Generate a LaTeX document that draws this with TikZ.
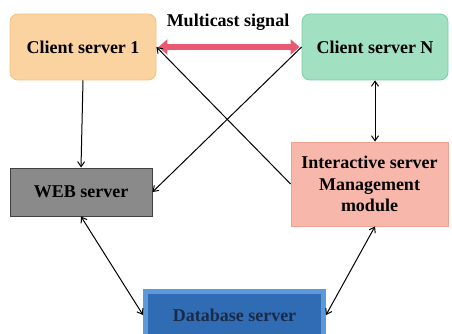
\documentclass[tikz,border=0pt]{standalone}
\usepackage{fontspec}
\setmainfont{Liberation Serif}
\usetikzlibrary{arrows.meta}
\definecolor{clientA}{HTML}{FBD3A0}
\definecolor{clientAline}{HTML}{F3C27A}
\definecolor{clientB}{HTML}{A2E0C2}
\definecolor{clientBline}{HTML}{74CFA2}
\definecolor{webgrey}{HTML}{8A8A8A}
\definecolor{imspink}{HTML}{F7B8AB}
\definecolor{imsline}{HTML}{EFA292}
\definecolor{dbblue}{HTML}{2F6CB3}
\definecolor{dbedge}{HTML}{5C98DA}
\definecolor{dbtext}{HTML}{1B2A48}
\definecolor{signal}{HTML}{E95A72}
\begin{document}
\begin{tikzpicture}[x=1pt, y=-1pt,
  box/.style={draw, line width=0.8pt, align=center, inner sep=0pt,
    font=\fontsize{18}{21.5}\selectfont\bfseries},
  link/.style={-{Straight Barb[length=5pt,width=7pt]}, line width=1pt},
  biglink/.style={{Straight Barb[length=5pt,width=7pt]}-{Straight Barb[length=5pt,width=7pt]}, line width=1pt}]
\useasboundingbox (0,0) rectangle (452,334);
\clip (0,0) rectangle (452,334);
\node (c1)[box, rounded corners=8pt, fill=clientA, draw=clientAline,
  minimum width=146pt, minimum height=66pt] at (83,47) {Client server 1};
\node (cN)[box, rounded corners=8pt, fill=clientB, draw=clientBline,
  minimum width=146pt, minimum height=66pt] at (375,47) {Client server N};
\node (web)[box, fill=webgrey, draw=black!75, line width=1pt,
  minimum width=142pt, minimum height=48pt] at (81,192) {WEB server};
\node (ims)[box, fill=imspink, draw=imsline,
  minimum width=157pt, minimum height=84pt] at (369.5,184)
  {Interactive server\\Management\\module};
% database box with a bevelled frame
\node (db)[box, fill=dbblue, draw=dbedge, line width=5pt, text=dbtext,
  minimum width=178pt, minimum height=47pt] at (234.5,315) {Database server};
\node (sig)[font=\fontsize{18}{20}\selectfont\bfseries] at (228,22) {Multicast signal};
\draw[signal, line width=6pt, {Triangle[length=9pt,width=15pt]}-{Triangle[length=9pt,width=15pt]}]
  (c1.east) ++(2,0) coordinate (s1) (cN.west) ++(-2,0) coordinate (s2)
  (s1) -- (s2);
\draw[link] (c1.south) -- (web.north);
\draw[biglink] (cN.south) -- (cN.south |- ims.north);
\draw[link] (ims.west) -- (c1.east);
\draw[link] (cN.west) -- (web.east);
\draw[biglink] (web.south) -- (db.west);
\draw[biglink] (cN.south |- ims.south) -- (db.east);
\end{tikzpicture}
\end{document}
